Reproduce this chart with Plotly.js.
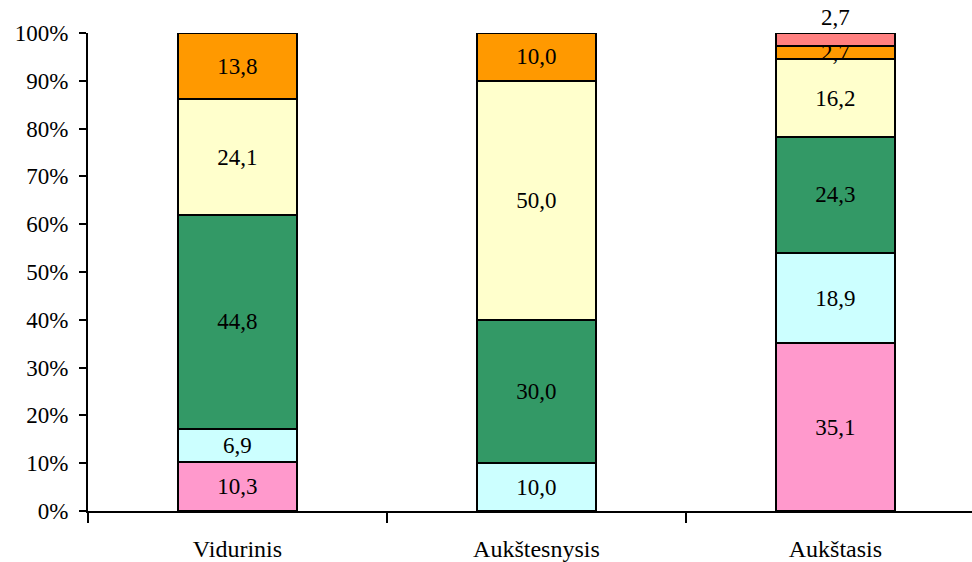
<!DOCTYPE html>
<html>
<head>
<meta charset="utf-8">
<script src="https://cdn.plot.ly/plotly-3.0.1.min.js"></script>
<style>html,body{margin:0;padding:0;background:#fff;}#chart{width:972px;height:562px;}</style>
</head>
<body>
<div id="chart"></div>
<script>
const categories = ["Vidurinis", "Aukštesnysis", "Aukštasis"];
const seriesPink   = [10.3, 0, 35.1];
const seriesCyan   = [6.9, 10.0, 18.9];
const seriesGreen  = [44.8, 30.0, 24.3];
const seriesYellow = [24.1, 50.0, 16.2];
const seriesOrange = [13.8, 10.0, 2.7];
const seriesRed    = [0, 0, 2.7];
const yTickVals = [0,10,20,30,40,50,60,70,80,90,100];
const yTickText = ["0%","10%","20%","30%","40%","50%","60%","70%","80%","90%","100%"];

const series = [
  {name: "s1", values: seriesPink,   color: "#FF99CC", pos: "inside"},
  {name: "s2", values: seriesCyan,   color: "#CCFFFF", pos: "inside"},
  {name: "s3", values: seriesGreen,  color: "#339966", pos: "inside"},
  {name: "s4", values: seriesYellow, color: "#FFFFCC", pos: "inside"},
  {name: "s5", values: seriesOrange, color: "#FF9900", pos: "inside"},
  {name: "s6", values: seriesRed,    color: "#FF8080", pos: "outside"}
];
const fmt = v => v === 0 ? "" : v.toFixed(1).replace(".", ",");
const font = "Liberation Serif, Times New Roman, serif";

const traces = series.map(s => ({
  type: "bar",
  name: s.name,
  x: categories,
  y: s.values,
  marker: {color: s.color, line: {color: "#000", width: 2}},
  text: s.values.map(fmt),
  textposition: s.pos,
  insidetextanchor: "middle",
  textangle: 0,
  constraintext: "none",
  cliponaxis: false,
  textfont: {family: font, size: 23, color: "#000"},
  hoverinfo: "skip"
}));

const layout = {
  width: 972, height: 562,
  margin: {l: 88, r: 0, t: 33, b: 51},
  paper_bgcolor: "#fff", plot_bgcolor: "#fff",
  barmode: "stack",
  bargap: 0.6,
  showlegend: false,
  uniformtext: {mode: "show", minsize: 23},
  font: {family: font, color: "#000", size: 23},
  xaxis: {
    type: "category",
    range: [-0.5, 2.457],
    showline: true, linecolor: "#000", linewidth: 2,
    ticks: "outside", tickson: "boundaries", ticklen: 10, tickwidth: 2, tickcolor: "#000",
    showgrid: false, zeroline: false,
    tickfont: {family: font, size: 24, color: "#000"},
    ticklabelstandoff: 15
  },
  yaxis: {
    range: [0, 100],
    tickmode: "array", tickvals: yTickVals, ticktext: yTickText,
    showline: true, linecolor: "#000", linewidth: 2,
    ticks: "outside", ticklen: 7, tickwidth: 2, tickcolor: "#000",
    showgrid: false, zeroline: false,
    tickfont: {family: font, size: 23, color: "#000"},
    ticklabelstandoff: 6
  }
};

Plotly.newPlot("chart", traces, layout, {staticPlot: true, displayModeBar: false});
</script>
</body>
</html>
